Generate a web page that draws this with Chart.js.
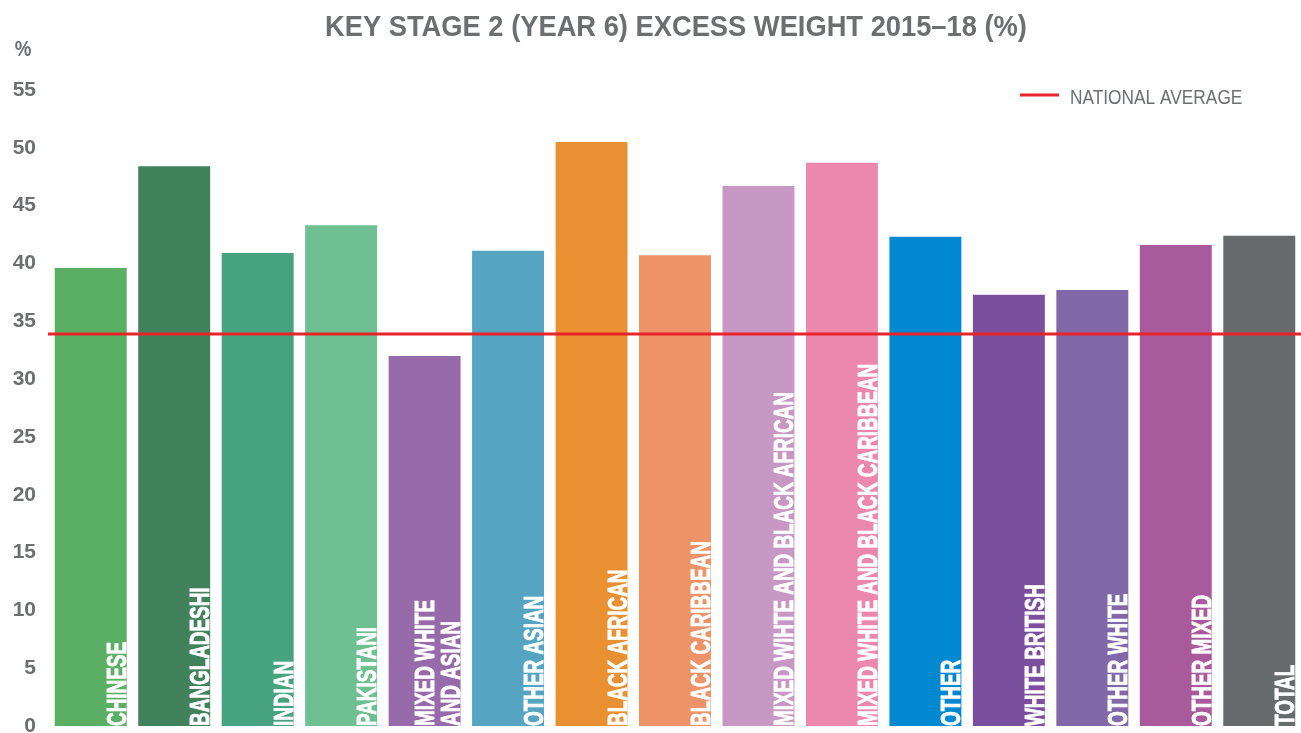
<!DOCTYPE html>
<html>
<head>
<meta charset="utf-8">
<script src="https://cdn.jsdelivr.net/npm/chart.js@4.4.1/dist/chart.umd.min.js"></script>
<style>
  html, body { margin: 0; padding: 0; background: #ffffff; }
  #wrap { width: 1301px; height: 733px; position: relative; }
</style>
</head>
<body>
<div id="wrap"><canvas id="c" width="1301" height="733"></canvas></div>
<script>
const titleText = 'KEY STAGE 2 (YEAR 6) EXCESS WEIGHT 2015\u201318 (%)';
const unitLabel = '%';
const legendLabel = 'NATIONAL AVERAGE';

const categories = [
  ['CHINESE'],
  ['BANGLADESHI'],
  ['INDIAN'],
  ['PAKISTANI'],
  ['MIXED WHITE', 'AND ASIAN'],
  ['OTHER ASIAN'],
  ['BLACK AFRICAN'],
  ['BLACK CARIBBEAN'],
  ['MIXED WIHTE AND BLACK AFRICAN'],
  ['MIXED WHITE AND BLACK CARIBBEAN'],
  ['OTHER'],
  ['WHITE BRITISH'],
  ['OTHER WHITE'],
  ['OTHER MIXED'],
  ['TOTAL']
];

const excessWeight = [39.6, 48.4, 40.9, 43.3, 32.0, 41.1, 50.5, 40.7, 46.7, 48.7, 42.3, 37.3, 37.7, 41.6, 42.4];

const nationalAverage = 33.9;

const barColors = [
  '#5aaf65', '#41825d', '#47a27f', '#6ec092', '#976aaa',
  '#55a5c2', '#e99033', '#ee9267', '#c898c4', '#ec87ae',
  '#0089d0', '#7a4f9e', '#8168a8', '#a85a9c', '#686b6c'
];

const yTicks = [0, 5, 10, 15, 20, 25, 30, 35, 40, 45, 50, 55];

const GREY = '#6d6e70';
const RED = '#e8242b';
const FONT = '"Liberation Sans", "DejaVu Sans", Arial, sans-serif';

function condensedText(ctx, text, x, y, font, sx, align, color, stroke) {
  ctx.save();
  ctx.font = font;
  ctx.fillStyle = color;
  ctx.textBaseline = 'alphabetic';
  const w = ctx.measureText(text).width * sx;
  let left = x;
  if (align === 'center') left = x - w / 2;
  else if (align === 'right') left = x - w;
  ctx.translate(left, y);
  ctx.scale(sx, 1);
  ctx.textAlign = 'left';
  ctx.fillText(text, 0, 0);
  if (stroke) {
    ctx.strokeStyle = color;
    ctx.lineWidth = stroke;
    ctx.strokeText(text, 0, 0);
  }
  ctx.restore();
}

const decorPlugin = {
  id: 'decor',
  afterDatasetsDraw(chart) {
    const ctx = chart.ctx;
    const area = chart.chartArea;
    const yScale = chart.scales.y;
    const meta = chart.getDatasetMeta(0);

    // bar labels (vertical, white)
    meta.data.forEach((bar, i) => {
      const lines = categories[i];
      const props = bar.getProps(['x', 'base', 'width'], true);
      const right = props.x + props.width / 2 - 1;
      ctx.save();
      ctx.font = 'bold 27px ' + FONT;
      ctx.fillStyle = '#ffffff';
      ctx.strokeStyle = '#ffffff';
      ctx.lineWidth = 0.9;
      ctx.textBaseline = 'alphabetic';
      ctx.textAlign = 'left';
      const n = lines.length;
      lines.forEach((ln, k) => {
        const offset = (n - 1 - k) * 26;
        ctx.save();
        ctx.translate(right - offset, props.base);
        ctx.rotate(-Math.PI / 2);
        ctx.scale(0.7, 1);
        ctx.fillText(ln, 0, 0);
        ctx.strokeText(ln, 0, 0);
        ctx.restore();
      });
      ctx.restore();
    });

    // national average line across the plot area
    const yAvg = yScale.getPixelForValue(nationalAverage);
    ctx.save();
    ctx.strokeStyle = RED;
    ctx.lineWidth = 3;
    ctx.beginPath();
    ctx.moveTo(area.left - 1, yAvg);
    ctx.lineTo(area.right, yAvg);
    ctx.stroke();
    ctx.restore();
  },
  afterDraw(chart) {
    const ctx = chart.ctx;
    // title
    condensedText(ctx, titleText, 676, 36, 'bold 30px ' + FONT, 0.91, 'center', GREY);
    // unit label
    condensedText(ctx, unitLabel, 23, 56, 'bold 22px ' + FONT, 0.85, 'center', GREY);
    // legend
    ctx.save();
    ctx.strokeStyle = RED;
    ctx.lineWidth = 3;
    ctx.beginPath();
    ctx.moveTo(1020, 95);
    ctx.lineTo(1059, 95);
    ctx.stroke();
    ctx.restore();
    condensedText(ctx, legendLabel, 1070, 104, '20px ' + FONT, 0.865, 'left', GREY);
  }
};

new Chart(document.getElementById('c'), {
  type: 'bar',
  data: {
    labels: categories,
    datasets: [{
      label: 'Excess weight',
      data: excessWeight,
      backgroundColor: barColors,
      borderWidth: 0,
      barPercentage: 0.862,
      categoryPercentage: 1.0
    }]
  },
  options: {
    responsive: false,
    animation: false,
    devicePixelRatio: 1,
    layout: { padding: { top: 90, bottom: 7, left: 0, right: 0 } },
    plugins: {
      legend: { display: false },
      title: { display: false },
      tooltip: { enabled: false }
    },
    scales: {
      x: {
        display: false,
        grid: { display: false }
      },
      y: {
        min: 0,
        max: 55,
        afterFit(scale) {
          scale.width = 49;
          scale.paddingTop = 0;
          scale.paddingBottom = 0;
        },
        afterBuildTicks(scale) { scale.ticks = yTicks.map(v => ({ value: v })); },
        grid: { display: false, drawTicks: false },
        border: { display: false },
        ticks: {
          padding: 13,
          color: GREY,
          font: { family: FONT, size: 21, weight: 'bold' },
          callback: (v) => String(v)
        }
      }
    }
  },
  plugins: [decorPlugin]
});
</script>
</body>
</html>
